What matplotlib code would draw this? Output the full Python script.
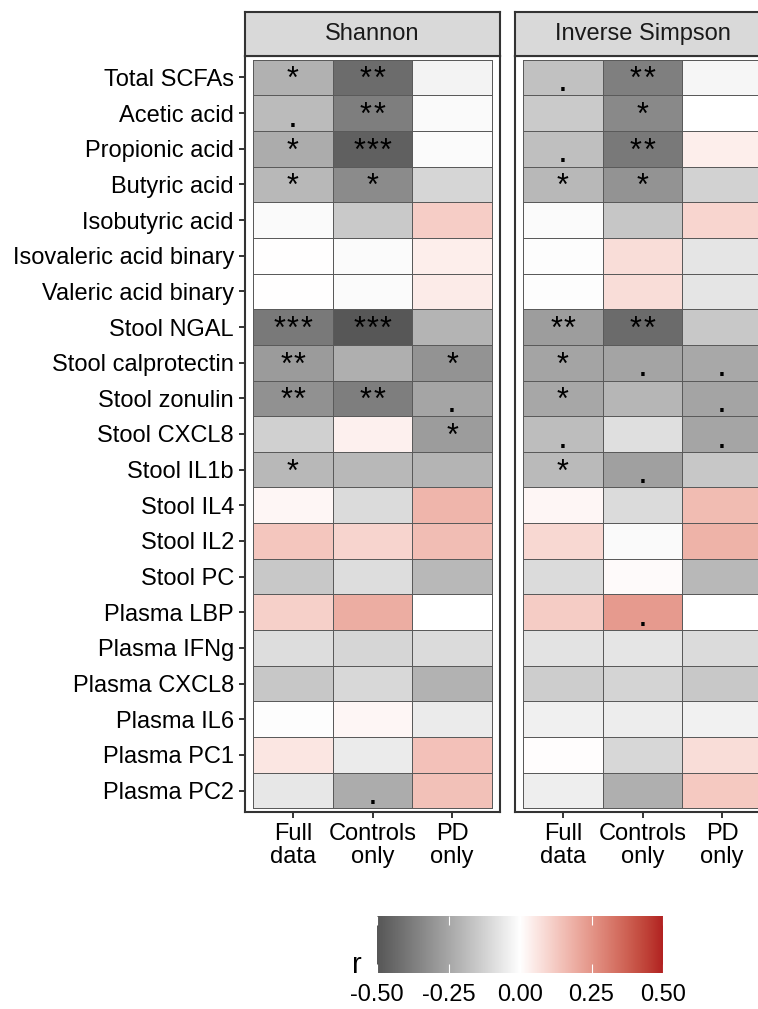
import numpy as np
import matplotlib
matplotlib.use("Agg")
import matplotlib.pyplot as plt
import matplotlib.transforms as mtransforms
from matplotlib.colors import ListedColormap, Normalize

plt.rcParams['font.family'] = ['Liberation Sans', 'DejaVu Sans']

# ---------------- data ----------------
rows = ["Total SCFAs", "Acetic acid", "Propionic acid", "Butyric acid",
        "Isobutyric acid", "Isovaleric acid binary", "Valeric acid binary",
        "Stool NGAL", "Stool calprotectin", "Stool zonulin", "Stool CXCL8",
        "Stool IL1b", "Stool IL4", "Stool IL2", "Stool PC", "Plasma LBP",
        "Plasma IFNg", "Plasma CXCL8", "Plasma IL6", "Plasma PC1", "Plasma PC2"]
columns = ["Full\ndata", "Controls\nonly", "PD\nonly"]
facets = ["Shannon", "Inverse Simpson"]

shannon_full = [-0.22, -0.19, -0.235, -0.20, -0.015, 0.003, 0.003,
                -0.39, -0.285, -0.315, -0.13, -0.20, 0.02, 0.133, -0.153, 0.11,
                -0.095, -0.155, -0.005, 0.06, -0.065]
shannon_controls = [-0.43, -0.375, -0.47, -0.335, -0.15, -0.01, -0.01,
                    -0.50, -0.226, -0.375, 0.035, -0.20, -0.10, 0.10, -0.093, 0.195,
                    -0.115, -0.108, 0.02, -0.055, -0.235]
shannon_pd = [-0.035, -0.015, -0.01, -0.115, 0.118, 0.04, 0.045,
              -0.21, -0.31, -0.255, -0.283, -0.21, 0.174, 0.155, -0.20, 0.0,
              -0.10, -0.217, -0.055, 0.145, 0.148]

invsimp_full = [-0.173, -0.147, -0.18, -0.20, -0.01, -0.005, -0.005,
                -0.28, -0.258, -0.25, -0.185, -0.195, 0.02, 0.092, -0.10, 0.12,
                -0.078, -0.14, -0.042, 0.005, -0.045]
invsimp_controls = [-0.37, -0.338, -0.39, -0.31, -0.16, 0.08, 0.08,
                    -0.435, -0.258, -0.205, -0.088, -0.27, -0.10, -0.015, 0.01, 0.24,
                    -0.072, -0.12, -0.05, -0.11, -0.226]
invsimp_pd = [-0.025, 0.0, 0.04, -0.125, 0.098, -0.072, -0.072,
              -0.153, -0.245, -0.258, -0.255, -0.155, 0.16, 0.18, -0.20, 0.0,
              -0.10, -0.153, -0.038, 0.08, 0.128]

shannon_sig_full = ["*", ".", "*", "*", "", "", "", "***", "**", "**", "", "*",
                    "", "", "", "", "", "", "", "", ""]
shannon_sig_controls = ["**", "**", "***", "*", "", "", "", "***", "", "**", "", "",
                        "", "", "", "", "", "", "", "", "."]
shannon_sig_pd = ["", "", "", "", "", "", "", "", "*", ".", "*", "",
                  "", "", "", "", "", "", "", "", ""]
invsimp_sig_full = [".", "", ".", "*", "", "", "", "**", "*", "*", ".", "*",
                    "", "", "", "", "", "", "", "", ""]
invsimp_sig_controls = ["**", "*", "**", "*", "", "", "", "**", ".", "", "", ".",
                        "", "", "", ".", "", "", "", "", ""]
invsimp_sig_pd = ["", "", "", "", "", "", "", "", ".", ".", ".", "",
                  "", "", "", "", "", "", "", "", ""]

cbar_ticks = [-0.5, -0.25, 0.0, 0.25, 0.5]
cbar_labels = ["-0.50", "-0.25", "0.00", "0.25", "0.50"]

# ---------------- Lab colour ramp (like scale_fill_gradient2) ----------------
WHITE_XYZ = np.array([0.95047, 1.0, 1.08883])
M = np.array([[0.4124, 0.3576, 0.1805], [0.2126, 0.7152, 0.0722], [0.0193, 0.1192, 0.9505]])


def srgb_to_lab(rgb):
    c = np.asarray(rgb, float)
    lin = np.where(c <= 0.04045, c / 12.92, ((c + 0.055) / 1.055) ** 2.4)
    xyz = lin @ M.T / WHITE_XYZ
    f = np.where(xyz > 0.008856, np.cbrt(xyz), 7.787 * xyz + 16 / 116)
    return np.array([116 * f[..., 1] - 16, 500 * (f[..., 0] - f[..., 1]), 200 * (f[..., 1] - f[..., 2])]).T


def lab_to_srgb(lab):
    L, a, b = lab[:, 0], lab[:, 1], lab[:, 2]
    fy_ = (L + 16) / 116
    fx_ = fy_ + a / 500
    fz_ = fy_ - b / 200
    f = np.stack([fx_, fy_, fz_], axis=1)
    xyz = np.where(f ** 3 > 0.008856, f ** 3, (f - 16 / 116) / 7.787) * WHITE_XYZ
    lin = xyz @ np.linalg.inv(M).T
    lin = np.clip(lin, 0, 1)
    c = np.where(lin <= 0.0031308, 12.92 * lin, 1.055 * lin ** (1 / 2.4) - 0.055)
    return np.clip(c, 0, 1)


low = srgb_to_lab(np.array([[0x57, 0x57, 0x57]]) / 255)[0]
mid = srgb_to_lab(np.array([[1.0, 1.0, 1.0]]))[0]
high = srgb_to_lab(np.array([[0xB2, 0x22, 0x22]]) / 255)[0]
v = np.linspace(-0.5, 0.5, 512)
labs = np.array([mid + (abs(x) / 0.5) * ((low if x < 0 else high) - mid) for x in v])
cmap = ListedColormap(lab_to_srgb(labs))
norm = Normalize(-0.5, 0.5)

# ---------------- figure ----------------
W, H = 758, 1009
fig = plt.figure(figsize=(W / 100, H / 100), dpi=100)
fig.patch.set_facecolor("white")

BORDER = "#333333"
FS = 17


def fx(px):
    return px / W


def fy(py):
    return 1 - py / H


panels = [
    (245, [shannon_full, shannon_controls, shannon_pd],
     [shannon_sig_full, shannon_sig_controls, shannon_sig_pd]),
    (515, [invsimp_full, invsimp_controls, invsimp_pd],
     [invsimp_sig_full, invsimp_sig_controls, invsimp_sig_pd]),
]
pw = 255
top, bottom = 56, 812
strip_top = 12
STAR_ADV = 13.3  # px between adjacent asterisks
GLYPH_STYLE = {"*": (22, 11.0), ".": (25.5, 13.5)}  # fontsize, baseline drop (px)


def sig_transform(ax, dx_px, dy_px):
    return ax.transData + mtransforms.ScaledTranslation(dx_px / 100, -dy_px / 100,
                                                        fig.dpi_scale_trans)


for k, (left, vals, sigs) in enumerate(panels):
    ax = fig.add_axes([fx(left), fy(bottom), pw / W, (bottom - top) / H])
    Z = np.array(vals).T  # rows x cols
    xe = np.arange(0.5, len(columns) + 0.6, 1.0)
    ye = np.arange(0.5, len(rows) + 0.6, 1.0)
    ax.pcolormesh(xe, ye, Z, cmap=cmap, norm=norm, edgecolors="#5a5a5a", linewidth=0.7)
    ax.set_xlim(0.4, len(columns) + 0.6)
    ax.set_ylim(len(rows) + 0.6, 0.4)
    for j, col in enumerate(sigs):
        for i, s in enumerate(col):
            n = len(s)
            for m, ch in enumerate(s):
                fsz, drop = GLYPH_STYLE[ch]
                dx = (m - (n - 1) / 2) * STAR_ADV
                ax.text(j + 1, i + 1, ch, ha="center", va="baseline", fontsize=fsz,
                        color="black", transform=sig_transform(ax, dx, drop))
    ax.set_xticks(range(1, len(columns) + 1))
    ax.set_xticklabels(columns, fontsize=FS, linespacing=1.05)
    ax.set_yticks(range(1, len(rows) + 1))
    if k == 0:
        ax.set_yticklabels(rows, fontsize=FS)
    else:
        ax.set_yticklabels([])
        ax.tick_params(axis="y", left=False)
    ax.tick_params(axis="both", color=BORDER, length=4.5, width=1.4, pad=3.5,
                   labelcolor="black")
    for sp in ax.spines.values():
        sp.set_color(BORDER)
        sp.set_linewidth(1.5)

    # strip
    sax = fig.add_axes([fx(left), fy(top), pw / W, (top - strip_top) / H])
    sax.set_facecolor("#d9d9d9")
    sax.set_xticks([])
    sax.set_yticks([])
    for sp in sax.spines.values():
        sp.set_color(BORDER)
        sp.set_linewidth(1.5)
    sax.text(0.5, 0.5, facets[k], ha="center", va="center", fontsize=FS,
             color="#1a1a1a", transform=sax.transAxes)

# ---------------- colourbar ----------------
cax = fig.add_axes([fx(377), fy(973), (663 - 377) / W, (973 - 916) / H])
grad = np.linspace(-0.5, 0.5, 300)[None, :]
cax.imshow(grad, aspect="auto", cmap=cmap, norm=norm, extent=[-0.5, 0.5, 0, 1])
cax.set_xlim(-0.5, 0.5)
cax.set_ylim(0, 1)
for sp in cax.spines.values():
    sp.set_visible(False)
cax.set_yticks([])
cax.set_xticks(cbar_ticks)
cax.set_xticklabels(cbar_labels, fontsize=FS)
cax.tick_params(axis="x", length=0, pad=8)
for t in cbar_ticks:
    cax.plot([t, t], [0, 0.16], color="white", lw=0.8, solid_capstyle="butt")
    cax.plot([t, t], [0.84, 1], color="white", lw=0.8, solid_capstyle="butt")
fig.text(fx(352), fy(973), "r", ha="left", va="baseline", fontsize=21)

fig.savefig("out.png", dpi=100, facecolor="white")
